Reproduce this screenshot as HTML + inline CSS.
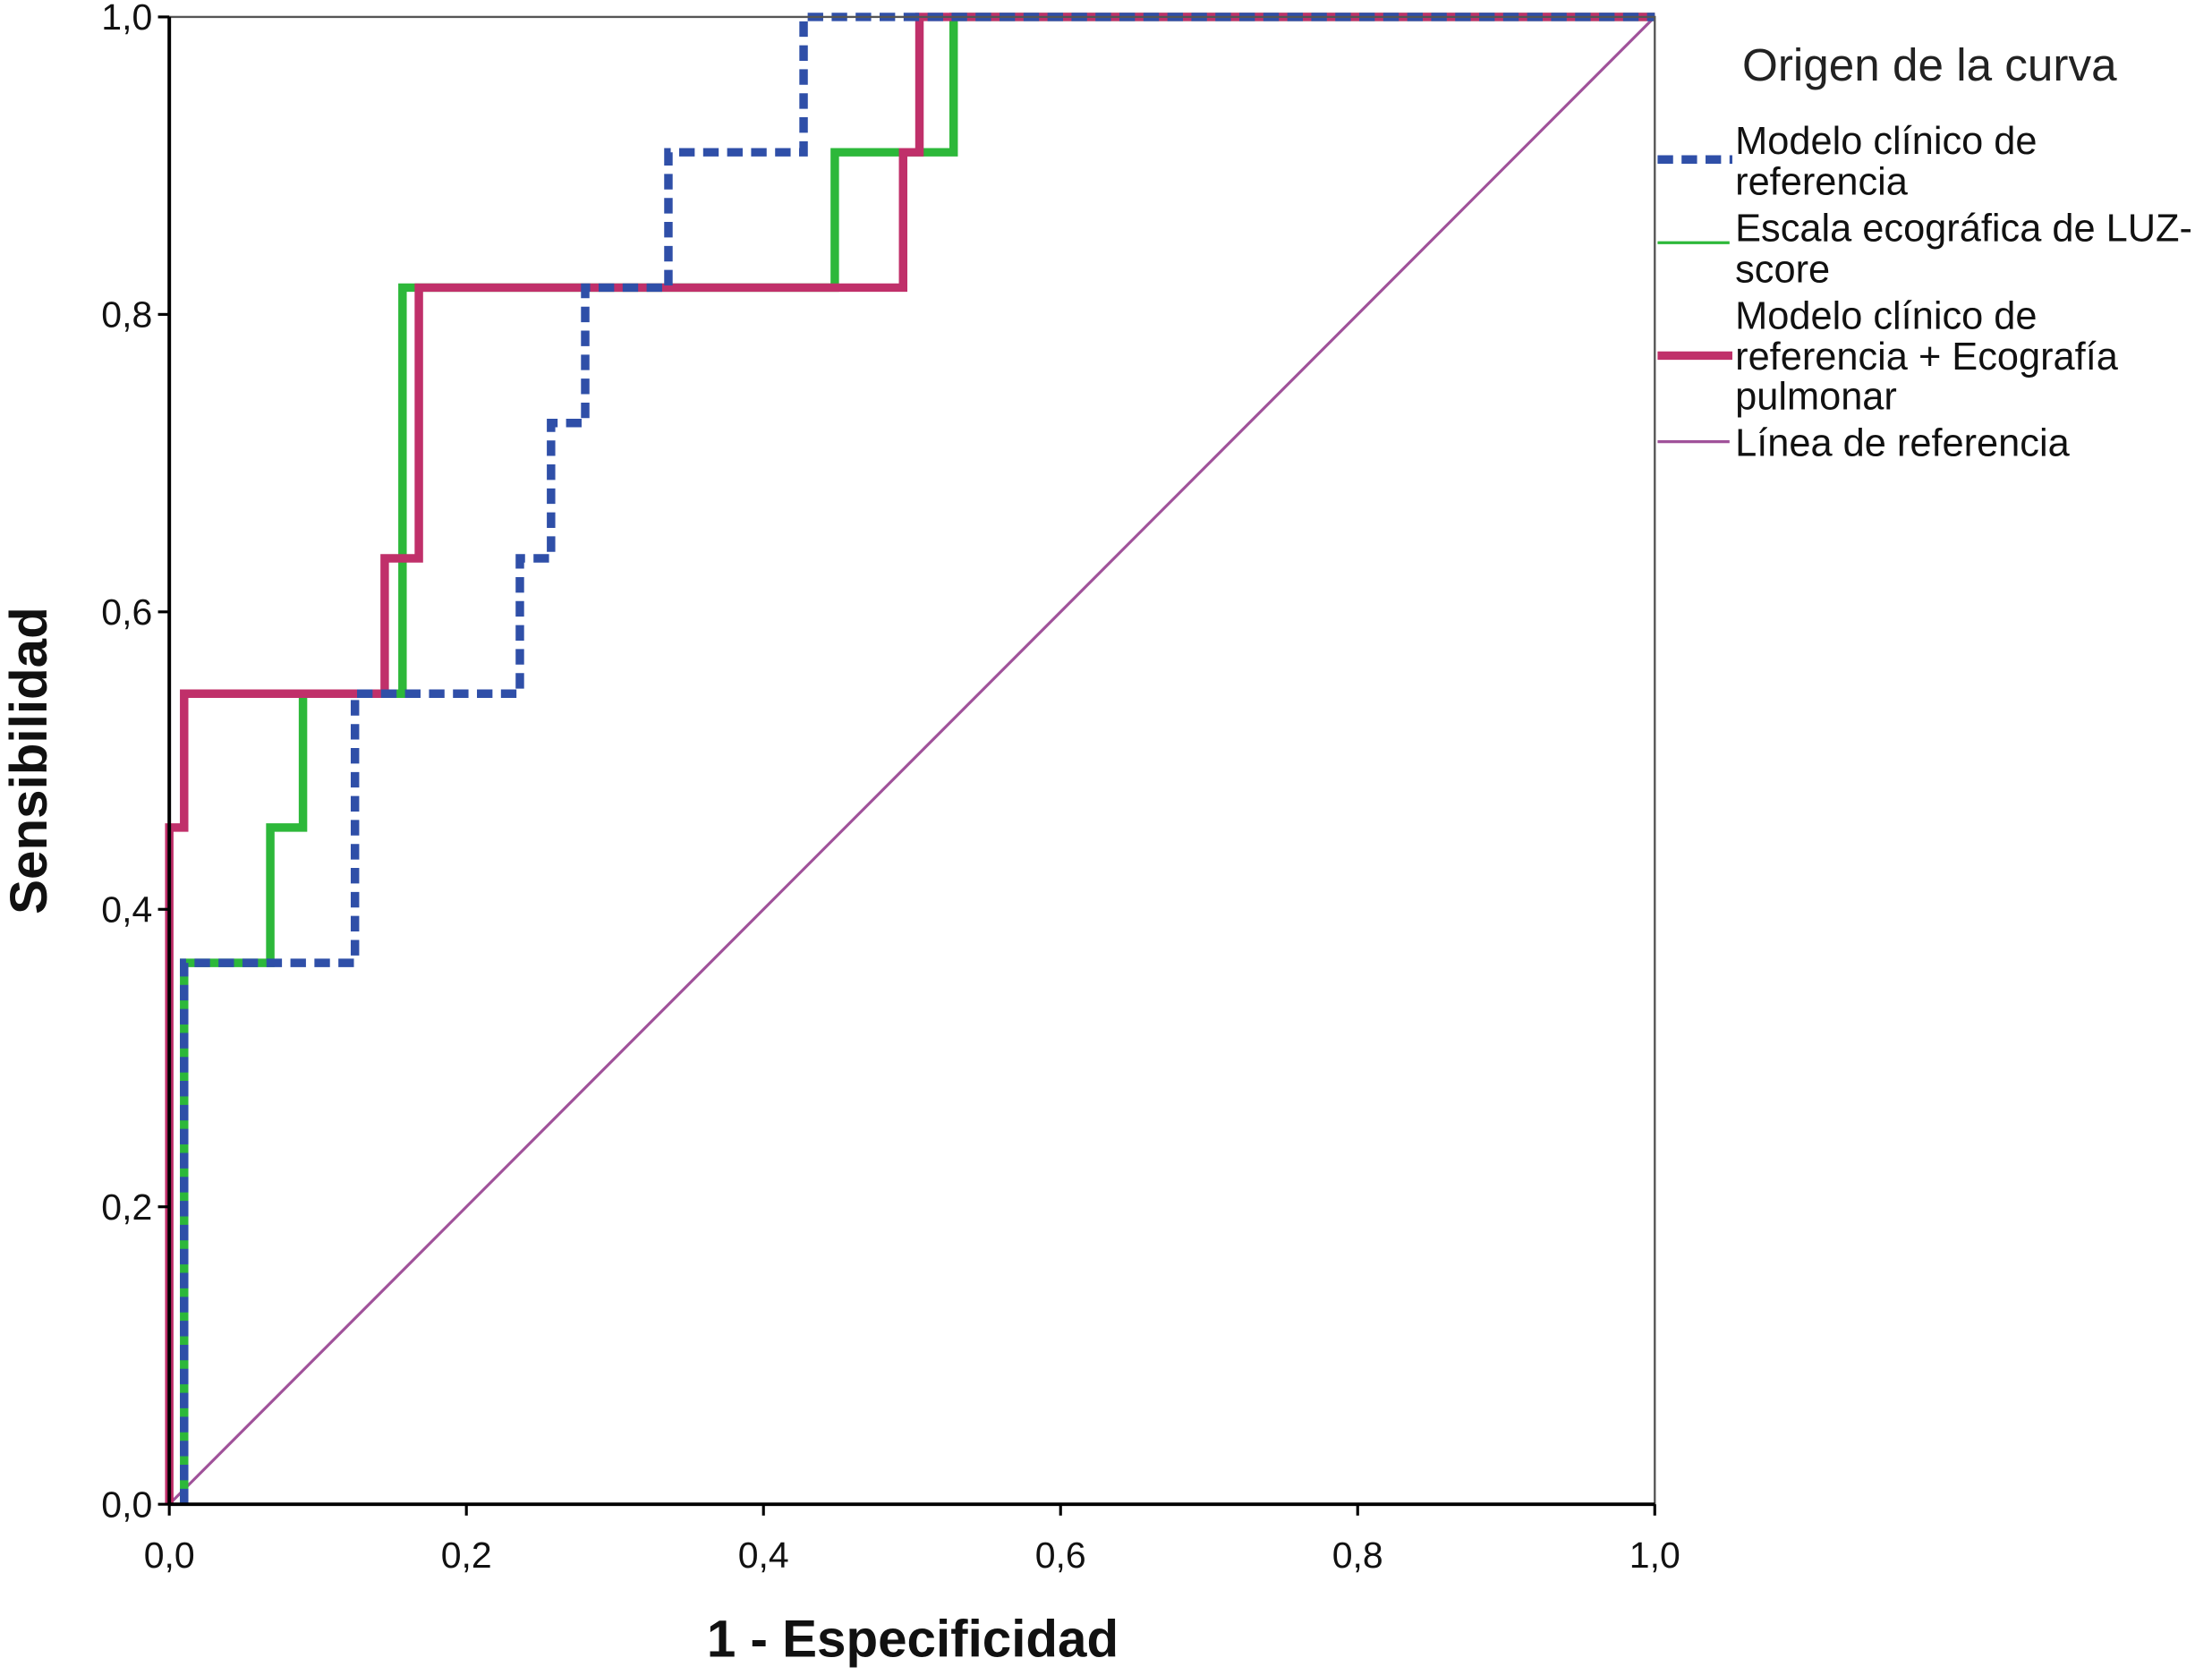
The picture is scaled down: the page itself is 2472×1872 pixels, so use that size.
<!DOCTYPE html>
<html><head><meta charset="utf-8">
<style>
html,body{margin:0;padding:0;background:#fff;}
svg{display:block;}
text{font-family:"Liberation Sans",Arial,sans-serif;}
</style></head>
<body>
<svg id="chart" width="2472" height="1872" viewBox="0 0 1568 1187" preserveAspectRatio="none" xmlns="http://www.w3.org/2000/svg">
<rect x="0" y="0" width="1568" height="1187" fill="#fff"/>
<g id="plot"></g>
<g id="axes"></g>
<g id="legend">
  <text x="1235" y="57" font-size="32.5" fill="#222">Origen de la curva</text>
  <line x1="1175" y1="113" x2="1228" y2="113" stroke="#2f4fa8" stroke-width="6" stroke-dasharray="11,6"/>
  <text font-size="27.5" fill="#111"><tspan x="1230" y="109">Modelo clínico de</tspan><tspan x="1230" y="138">referencia</tspan></text>
  <line x1="1175" y1="172" x2="1226" y2="172" stroke="#2db83a" stroke-width="2"/>
  <text font-size="27.5" fill="#111"><tspan x="1230" y="171">Escala ecográfica de LUZ-</tspan><tspan x="1230" y="200">score</tspan></text>
  <line x1="1175" y1="252" x2="1228" y2="252" stroke="#c0306a" stroke-width="6"/>
  <text font-size="27.5" fill="#111"><tspan x="1230" y="233">Modelo clínico de</tspan><tspan x="1230" y="262">referencia + Ecografía</tspan><tspan x="1230" y="290">pulmonar</tspan></text>
  <line x1="1175" y1="313" x2="1226" y2="313" stroke="#a0529a" stroke-width="2"/>
  <text x="1230" y="323" font-size="27.5" fill="#111">Línea de referencia</text>
</g>
<text x="647" y="1174" font-size="37" font-weight="bold" text-anchor="middle" fill="#111">1 - Especificidad</text>
<text transform="translate(33,539) rotate(-90)" font-size="37" font-weight="bold" text-anchor="middle" fill="#111">Sensibilidad</text>
</svg>
<script>
const ticks = [0, 0.2, 0.4, 0.6, 0.8, 1.0];
const tickLabels = ["0,0", "0,2", "0,4", "0,6", "0,8", "1,0"];
const clinicalX = [0.01, 0.01, 0.125, 0.125, 0.236, 0.236, 0.257, 0.257, 0.28, 0.28, 0.336, 0.336, 0.427, 0.427, 1];
const clinicalY = [0, 0.364, 0.364, 0.545, 0.545, 0.636, 0.636, 0.727, 0.727, 0.818, 0.818, 0.909, 0.909, 1, 1];
const luzX = [0.01, 0.01, 0.068, 0.068, 0.09, 0.09, 0.157, 0.157, 0.448, 0.448, 0.528, 0.528, 1];
const luzY = [0, 0.364, 0.364, 0.455, 0.455, 0.545, 0.545, 0.818, 0.818, 0.909, 0.909, 1, 1];
const combX = [0, 0, 0.01, 0.01, 0.145, 0.145, 0.168, 0.168, 0.494, 0.494, 0.505, 0.505, 1];
const combY = [0, 0.455, 0.455, 0.545, 0.545, 0.636, 0.636, 0.818, 0.818, 0.909, 0.909, 1, 1];
const refX = [0, 1];
const refY = [0, 1];

const NS = "http://www.w3.org/2000/svg";
const X0 = 120, X1 = 1173, Y0 = 1066, Y1 = 12;
const sx = v => X0 + v * (X1 - X0);
const sy = v => Y0 - v * (Y0 - Y1);
const plot = document.getElementById('plot');
const axes = document.getElementById('axes');

function mk(tag, attrs, parent) {
  const e = document.createElementNS(NS, tag);
  for (const k in attrs) e.setAttribute(k, attrs[k]);
  parent.appendChild(e);
  return e;
}
function pts(xs, ys) { return xs.map((x, i) => sx(x) + ',' + sy(ys[i])).join(' '); }

const frame = mk('rect', {x: X0, y: Y1, width: X1 - X0, height: Y0 - Y1, fill: 'none', stroke: '#555', 'stroke-width': 1.5}, axes);


const xAxis = mk('line', {x1: X0, y1: Y0, x2: X1, y2: Y0, stroke: '#000', 'stroke-width': 2.5}, axes);


const yAxis = mk('line', {x1: X0, y1: Y0, x2: X0, y2: Y1, stroke: '#000', 'stroke-width': 2.5}, axes);



ticks.forEach((t, i) => {
  const a = mk('line', {x1: sx(t), y1: Y0, x2: sx(t), y2: Y0 + 8, stroke: '#000', 'stroke-width': 2}, axes);
  
  
  const lx = mk('text', {x: sx(t), y: Y0 + 45, 'font-size': 26, 'text-anchor': 'middle', fill: '#111'}, axes);
  lx.textContent = tickLabels[i];
  
  
  const b = mk('line', {x1: X0 - 8, y1: sy(t), x2: X0, y2: sy(t), stroke: '#000', 'stroke-width': 2}, axes);
  
  
  const ly = mk('text', {x: X0 - 12, y: sy(t) + 9, 'font-size': 26, 'text-anchor': 'end', fill: '#111'}, axes);
  ly.textContent = tickLabels[i];
  
  
});

const ref = mk('polyline', {points: pts(refX, refY), fill: 'none', stroke: '#a0529a', 'stroke-width': 2}, plot);


const luz = mk('polyline', {points: pts(luzX, luzY), fill: 'none', stroke: '#2db83a', 'stroke-width': 6}, plot);


const comb = mk('polyline', {points: pts(combX, combY), fill: 'none', stroke: '#c0306a', 'stroke-width': 6}, plot);


const clin = mk('polyline', {points: pts(clinicalX, clinicalY), fill: 'none', stroke: '#2f4fa8', 'stroke-width': 6, 'stroke-dasharray': '11,6'}, plot);


</script>
</body></html>
